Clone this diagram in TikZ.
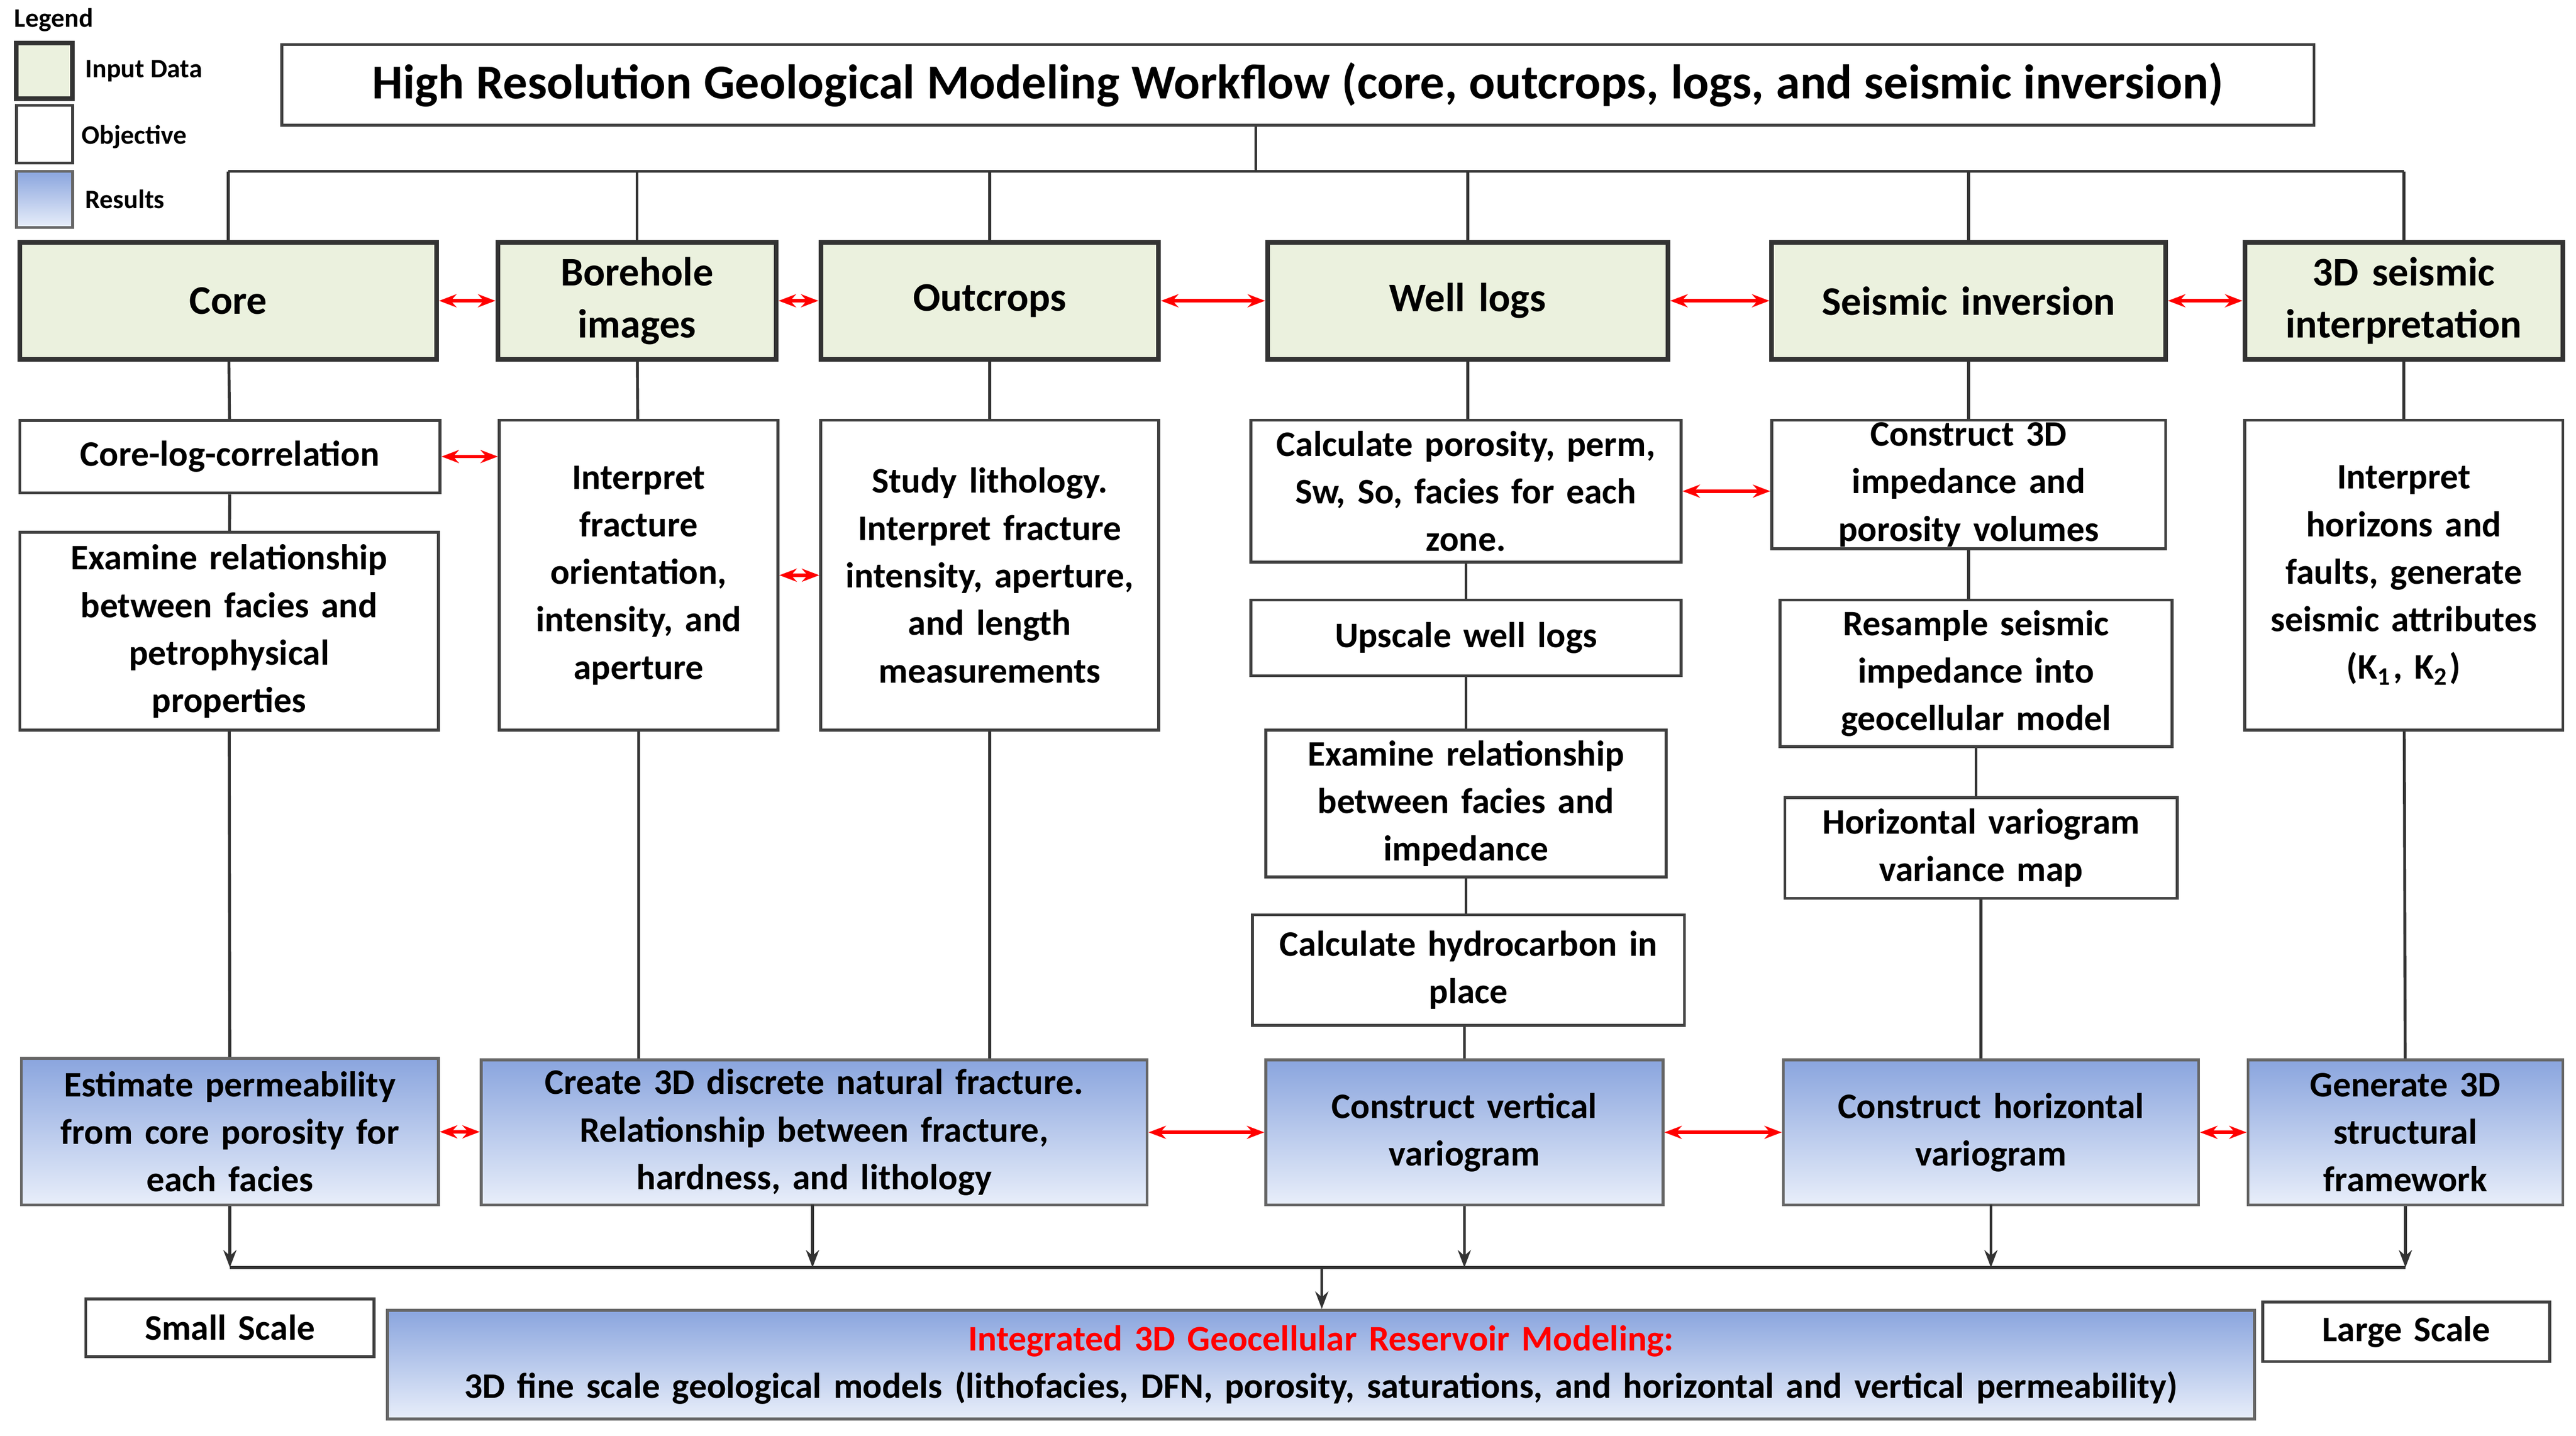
\documentclass[tikz,border=0pt]{standalone}
\usepackage{fontspec}
\setmainfont{Carlito}
\usetikzlibrary{arrows.meta}
\definecolor{inputgreen}{RGB}{235,241,222}
\definecolor{restop}{RGB}{138,165,222}
\definecolor{resbot}{RGB}{232,238,250}

% box given by corners in reference pixels
\newcommand\bx[7]{%
  \pgfmathsetmacro\bxw{(#4-#2)*0.01}%
  \pgfmathsetmacro\bxh{(#5-#3)*0.01}%
  \pgfmathsetmacro\bxt{(#4-#2-6)*0.01}%
  \node[#6, minimum width=\bxw cm, minimum height=\bxh cm, text width=\bxt cm]
    (#1) at ({(#2+#4)/2},{(#3+#5)/2}) {#7};}

\tikzset{
  base/.style={draw=black!75, line width=0.5pt, inner sep=0pt, align=center,
    font=\bfseries\fontsize{6.2}{8.2}\selectfont},
  input/.style={base, fill=inputgreen, font=\bfseries\fontsize{7}{9}\selectfont,
    draw=black!80, line width=0.8pt},
  task/.style={base, fill=white},
  result/.style={base, top color=restop, bottom color=resbot, draw=black!60},
  link/.style={draw=black!80, line width=0.5pt},
  dbl/.style={red, line width=0.6pt, {Stealth[length=3pt]}-{Stealth[length=3pt]}},
  down/.style={link, -{Stealth[length=3pt]}},
  legtext/.style={font=\bfseries\fontsize{4.6}{6}\selectfont, inner sep=0pt, anchor=west}
}

\begin{document}
\begin{tikzpicture}[x=0.01cm, y=-0.01cm]
\useasboundingbox (0,0) rectangle (1563,871);

% legend
\node[legtext] (leg) at (8,12) {Legend};
\bx{legin}{10}{26}{44}{60}{input}{}
\bx{legobj}{10}{64}{44}{99}{task}{}
\bx{legres}{10}{104}{44}{138}{result}{}
\node[legtext] (legint) at (51,43) {Input Data};
\node[legtext] (legot) at (49,83) {Objective};
\node[legtext] (legrt) at (51,121) {Results};

% title
\bx{title}{171}{27}{1404}{76}{task}{\fontsize{8.4}{10}\selectfont High Resolution Geological Modeling Workflow (core, outcrops, logs, and seismic inversion)}

% input data
\bx{core}{12}{147}{265}{218}{input}{Core}
\bx{bore}{302}{147}{471}{218}{input}{Borehole\\images}
\bx{outc}{498}{147}{703}{218}{input}{Outcrops}
\bx{well}{769}{147}{1012}{218}{input}{Well logs}
\bx{seis}{1075}{147}{1314}{218}{input}{Seismic inversion}
\bx{inter}{1362}{147}{1555}{218}{input}{3D seismic\\interpretation}

% objectives
\bx{clc}{12}{255}{267}{299}{task}{Core-log-correlation}
\bx{exfp}{12}{323}{266}{443}{task}{Examine relationship\\between facies and\\petrophysical\\properties}
\bx{frac}{303}{255}{472}{443}{task}{Interpret\\fracture\\orientation,\\intensity, and\\aperture}
\bx{lith}{498}{255}{703}{443}{task}{Study lithology.\\Interpret fracture\\intensity, aperture,\\and length\\measurements}
\bx{poro}{759}{255}{1020}{341}{task}{Calculate porosity, perm,\\Sw, So, facies for each\\zone.}
\bx{upsc}{759}{364}{1020}{410}{task}{Upscale well logs}
\bx{exfi}{768}{443}{1011}{532}{task}{Examine relationship\\between facies and\\impedance}
\bx{hcip}{760}{555}{1022}{622}{task}{Calculate hydrocarbon in\\place}
\bx{imp}{1075}{255}{1314}{333}{task}{Construct 3D\\impedance and\\porosity volumes}
\bx{resa}{1080}{364}{1318}{453}{task}{Resample seismic\\impedance into\\geocellular model}
\bx{vmap}{1083}{484}{1321}{545}{task}{Horizontal variogram\\variance map}
\bx{hor}{1362}{255}{1555}{443}{task}{Interpret\\horizons and\\faults, generate\\seismic attributes\\(K\textsubscript{1}, K\textsubscript{2})}

% results
\bx{perm}{13}{642}{266}{731}{result}{Estimate permeability\\from core porosity for\\each facies}
\bx{dfn}{292}{643}{696}{731}{result}{Create 3D discrete natural fracture.\\Relationship between fracture,\\hardness, and lithology}
\bx{vvar}{768}{643}{1009}{731}{result}{Construct vertical\\variogram}
\bx{hvar}{1082}{643}{1334}{731}{result}{Construct horizontal\\variogram}
\bx{frame}{1364}{643}{1555}{731}{result}{Generate 3D\\structural\\framework}
\bx{model}{235}{795}{1368}{861}{result}{\textcolor{red}{Integrated 3D Geocellular Reservoir Modeling:}\\3D fine scale geological models (lithofacies, DFN, porosity, saturations, and horizontal and vertical permeability)}
\bx{small}{52}{788}{227}{823}{task}{Small Scale}
\bx{large}{1373}{790}{1547}{826}{task}{Large Scale}

% top bus
\coordinate (tb) at (762,104);
\coordinate (bb) at (802,769);
\draw[link] (title.south -| tb) -- (tb);
\draw[link] (core.north |- tb) -- (inter.north |- tb);
\foreach \n in {core,bore,outc,well,seis,inter}
  \draw[link] (\n.north) -- (\n.north |- tb);

% vertical chains
\draw[link] (core) -- (clc) (clc) -- (exfp) (exfp) -- (perm);
\draw[link] (bore) -- (frac) (frac) -- (frac.south |- dfn.north);
\draw[link] (outc) -- (lith) (lith) -- (lith.south |- dfn.north);
\draw[link] (well.south) -- (well.south |- poro.north) (poro.south -| upsc) -- (upsc) (upsc) -- (exfi) (exfi) -- (exfi.south |- hcip.north) (hcip.south -| vvar) -- (vvar);
\draw[link] (seis) -- (imp) (imp.south) -- (imp.south |- resa.north) (resa.south) -- (resa.south |- vmap.north) (vmap.south) -- (vmap.south |- hvar.north);
\draw[link] (inter) -- (hor) (hor) -- (frame);

% red links
\draw[dbl] (core) -- (bore);
\draw[dbl] (bore) -- (outc);
\draw[dbl] (outc) -- (well);
\draw[dbl] (well) -- (seis);
\draw[dbl] (seis) -- (inter);
\draw[dbl] (clc.east) -- (clc.east -| frac.west);
\draw[dbl] (frac) -- (lith);
\draw[dbl] (poro.east) -- (poro.east -| imp.west);
\draw[dbl] (perm) -- (dfn);
\draw[dbl] (dfn) -- (vvar);
\draw[dbl] (vvar) -- (hvar);
\draw[dbl] (hvar) -- (frame);

% bottom bus
\draw[link] (perm.south |- bb) -- (frame.south |- bb);
\draw[down] (perm.south) -- (perm.south |- bb);
\draw[down] (493,731) -- (493,769);
\draw[down] (vvar.south) -- (vvar.south |- bb);
\draw[down] (1208,731) -- (1208,769);
\draw[down] (frame.south) -- (frame.south |- bb);
\draw[down] (bb) -- (model.north -| bb);
\end{tikzpicture}
\end{document}
